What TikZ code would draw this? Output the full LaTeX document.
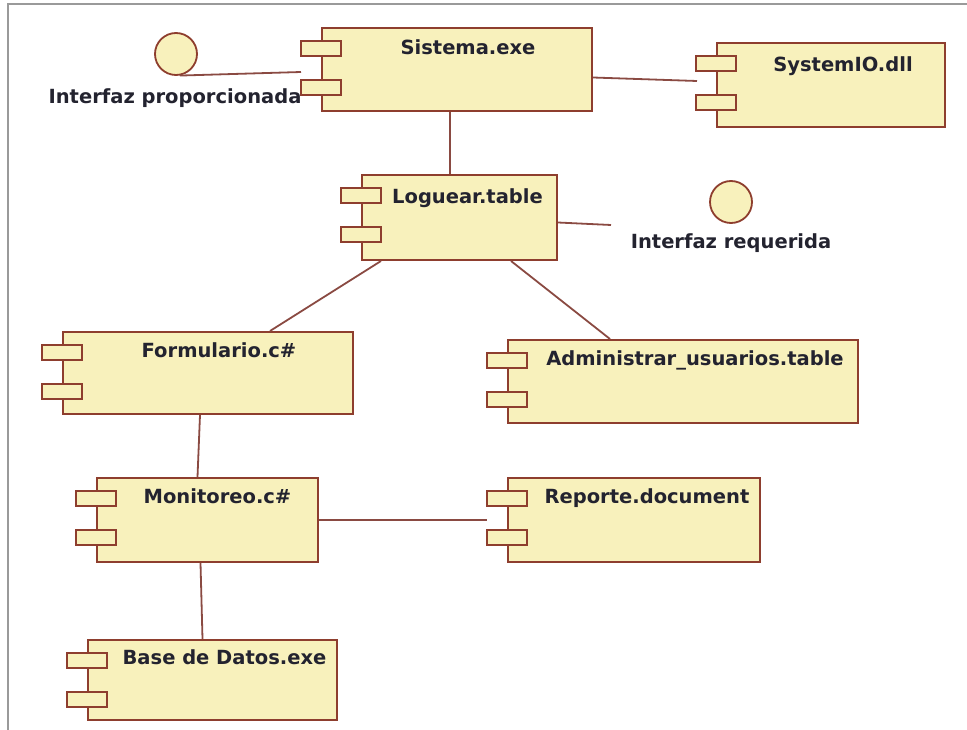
\documentclass[tikz,border=0pt]{standalone}
\usepackage{fontspec}
\setmainfont{DejaVu Sans}
\usepackage{tikz}
\usepackage{xcolor}
\usetikzlibrary{positioning}

\definecolor{compfill}{HTML}{F8F1BC}
\definecolor{compline}{HTML}{8E3E2E}
\definecolor{wirecol}{HTML}{8A4A42}
\definecolor{txtcol}{HTML}{23232F}
\definecolor{framecol}{HTML}{9A9A9A}

\tikzset{
  comp/.style={rectangle,draw=compline,fill=compfill,line width=2pt,inner sep=0pt},
  port/.style={draw=compline,fill=compfill,line width=1.8pt},
  lbl/.style={font=\bfseries\fontsize{19.5}{22}\selectfont,text=txtcol,inner sep=0pt,anchor=north},
  wire/.style={draw=wirecol,line width=1.8pt},
  iface/.style={circle,draw=compline,fill=compfill,line width=1.8pt,minimum size=42pt,inner sep=0pt}
}

\begin{document}
\begin{tikzpicture}[x=1pt,y=-1pt]
  \useasboundingbox (0,0) rectangle (967,730);
  \draw[framecol,line width=2pt] (8,730) -- (8,4) -- (967,4);

  % components
  \node[comp,minimum width=270,minimum height=83,
    label={[lbl,yshift=-12pt,xshift=11pt]north:Sistema.exe}] (sis) at (457,69.5) {};
  \node[comp,minimum width=228,minimum height=84,
    label={[lbl,yshift=-14pt,xshift=12pt]north:SystemIO.dll}] (sio) at (831,85) {};
  \node[comp,minimum width=195,minimum height=85,
    label={[lbl,yshift=-14pt,xshift=8pt]north:Loguear.table}] (log) at (459.5,217.5) {};
  \node[comp,minimum width=290,minimum height=82,
    label={[lbl,yshift=-11pt,xshift=11pt]north:Formulario.c\#}] (form) at (208,373) {};
  \node[comp,minimum width=350,minimum height=83,
    label={[lbl,yshift=-11pt,xshift=12pt]north:Administrar\_usuarios.table}] (adm) at (683,381.5) {};
  \node[comp,minimum width=221,minimum height=84,
    label={[lbl,yshift=-11pt,xshift=10pt]north:Monitoreo.c\#}] (mon) at (207.5,520) {};
  \node[comp,minimum width=252,minimum height=84,
    label={[lbl,yshift=-11pt,xshift=13pt]north:Reporte.document}] (rep) at (634,520) {};
  \node[comp,minimum width=249,minimum height=80,
    label={[lbl,yshift=-10pt,xshift=12pt]north:Base de Datos.exe}] (bd) at (212.5,680) {};

  % ports on the left side
  \foreach \c in {sis,sio,log,form,adm,mon,rep,bd}{
    \draw[port] ([shift={(-20,14)}]\c.north west) rectangle ++(40,15);
    \draw[port] ([shift={(-20,53)}]\c.north west) rectangle ++(40,15);
  }

  % interfaces
  \node[iface] (prov) at (176,54) {};
  \node[lbl,anchor=center] (provtxt) at (175,98) {Interfaz proporcionada};
  \node[iface] (req) at (731,202) {};
  \node[lbl,anchor=center] (reqtxt) at (731,243) {Interfaz requerida};
  \coordinate (reqend) at (611,225);
  \coordinate (sisin) at ([shift={(-20,45)}]sis.north west);

  % connectors
  \draw[wire] (prov.-80) -- (sisin);
  \draw[wire] ([shift={(0,8)}]sis.east) -- ([shift={(-19,-4)}]sio.west);
  \draw[wire] ([xshift=-7pt]sis.south) -- ([xshift=-7pt]sis.south |- log.north);
  \draw[wire] ([shift={(0,5)}]log.east) -- (reqend);
  \draw[wire] ([xshift=20pt]log.south west) -- ([xshift=62pt]form.north);
  \draw[wire] ([xshift=-47pt]log.south east) -- ([xshift=-73pt]adm.north);
  \draw[wire] ([xshift=-8pt]form.south) -- ([xshift=-10pt]mon.north);
  \draw[wire] (mon.east) -- ([xshift=-20pt]rep.west);
  \draw[wire] ([xshift=-7pt]mon.south) -- ([xshift=-10pt]bd.north);
\end{tikzpicture}
\end{document}
